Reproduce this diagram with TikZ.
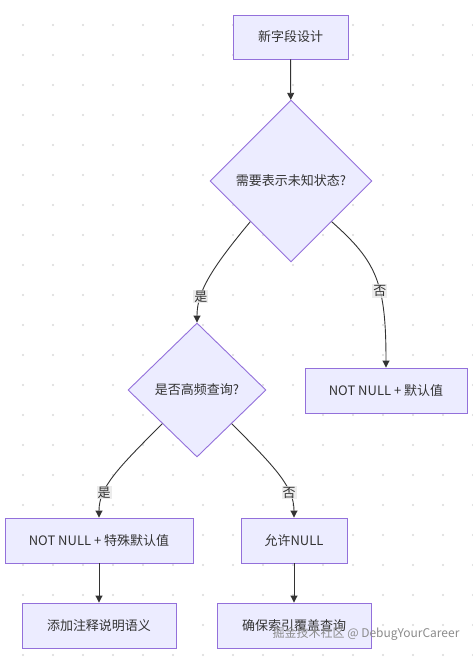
\documentclass[tikz,border=0pt]{standalone}
\usepackage{fontspec}
\setmainfont{Liberation Sans}
\newfontfamily\cjk{Noto Sans CJK SC}
\usepackage{tikz}
\usetikzlibrary{shapes.geometric,arrows.meta,positioning}
\definecolor{mmfill}{HTML}{ECECFF}
\definecolor{mmline}{HTML}{9370DB}
\definecolor{mmdark}{HTML}{333333}
\definecolor{mmdot}{HTML}{D9D9D9}
\definecolor{mmlabel}{HTML}{E8E8E8}

\begin{document}
\begin{tikzpicture}[
        x=1pt, y=1pt,
        box/.style={draw=mmline, fill=mmfill, line width=0.9pt, rectangle, minimum height=45pt, inner sep=0pt, align=center, text=mmdark, font=\cjk\fontsize{13}{15}\selectfont},
        dec/.style={draw=mmline, fill=mmfill, line width=0.9pt, diamond, inner sep=0pt, align=center, text=mmdark, font=\cjk\fontsize{13}{15}\selectfont},
        lbl/.style={fill=mmlabel, fill opacity=0.8, text opacity=1, inner sep=1pt, text=mmdark, font=\cjk\fontsize{13}{15}\selectfont},
        arr/.style={line width=0.9pt, color=mmdark, -{Triangle[length=7pt, width=7pt]}}
    ]
        % Canvas and dot grid
        \fill[white] (0,0) rectangle (473,-657);
        \useasboundingbox (0,0) rectangle (473,-657);
        \foreach \gx in {23,53,...,473}
            \foreach \gy in {25,55,...,655}
                \fill[mmdot] (\gx,-\gy) circle (1.1pt);

        % Decisions
        \node[dec, minimum width=162pt, minimum height=162pt] (qUnknown) at (291,-181) {需要表示未知状态?};
        \node[dec, minimum width=138pt, minimum height=134pt] (qFreq) at (197,-390) {是否高频查询?};

        % Steps
        \node[box, minimum width=115pt, minimum height=44pt] (bField) at (290.5,-37) {新字段设计};
        \node[box, minimum width=162pt] (bDefault) at (386,-390.5) {NOT NULL + 默认值};
        \node[box, minimum width=188pt] (bSpecial) at (99,-540.5) {NOT NULL + 特殊默认值};
        \node[box, minimum width=106pt] (bAllow) at (294,-540.5) {允许NULL};
        \node[box, minimum width=154pt] (bComment) at (99,-625.5) {添加注释说明语义};
        \node[box, minimum width=154pt] (bIndex) at (294,-625.5) {确保索引覆盖查询};

        % Flows
        \draw[arr] (bField) -- (qUnknown);
        \draw[arr] (qUnknown.south west) .. controls +(-40,-48) and +(0,30) .. node[lbl, pos=0.7] {是} (qFreq.north);
        \draw[arr] (qUnknown.south east) .. controls +(45,-40) and +(0,85) .. node[lbl, pos=0.6] {否} (bDefault.north);
        \draw[arr] (qFreq.south west) .. controls +(-45,-45) and +(0,30) .. node[lbl, pos=0.7] {是} (bSpecial.north);
        \draw[arr] (qFreq.south east) .. controls +(45,-45) and +(0,30) .. node[lbl, pos=0.7] {否} (bAllow.north);
        \draw[arr] (bSpecial) -- (bComment);
        \draw[arr] (bAllow) -- (bIndex);

        % Watermark
        \node[text=black!45, font=\cjk\fontsize{12}{14}\selectfont] (wMark) at (366,-634) {掘金技术社区 @ DebugYourCareer};
    \end{tikzpicture}
\end{document}
